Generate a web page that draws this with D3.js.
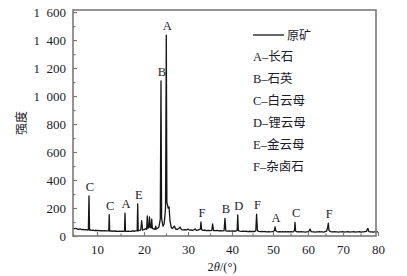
<!DOCTYPE html>
<html><head><meta charset="utf-8">
<script src="https://cdn.jsdelivr.net/npm/d3@7"></script>
<style>body{margin:0;background:#fff}svg{display:block}</style></head>
<body><svg id="c" width="407" height="276"></svg>
<script>
// ---- data ----
const twoTheta = [5.0,5.3,5.6,5.9,6.2,6.5,6.8,7.1,7.4,7.7,8.0,8.2,8.33,8.45,8.6,8.9,9.2,9.5,9.8,10.1,10.4,10.7,11.0,11.3,11.6,11.9,12.2,12.5,12.6,12.7,13.0,13.3,13.6,13.9,14.2,14.5,14.8,15.1,15.4,15.7,15.85,15.96,16.07,16.4,16.7,17.0,17.3,17.6,17.9,18.2,18.55,18.66,18.77,19.0,19.3,19.5,19.7,20.0,20.3,20.6,20.75,20.9,21.1,21.25,21.4,21.6,21.75,21.9,22.2,22.5,22.66,22.8,23.1,23.4,23.7,23.86,24.0,24.3,24.6,24.9,25.07,25.2,25.5,25.7,25.9,26.2,26.5,26.9,27.2,27.5,27.9,28.2,28.5,28.9,29.3,29.7,30.0,30.3,30.7,31.0,31.3,31.6,31.9,32.2,32.5,32.8,32.95,33.1,33.4,33.8,34.2,34.6,35.0,35.4,35.6,35.8,36.2,36.6,37.0,37.4,37.8,38.2,38.4,38.6,39.0,39.4,39.8,40.2,40.6,41.0,41.25,41.4,41.55,41.9,42.3,42.7,43.1,43.5,43.9,44.3,44.7,45.1,45.5,45.8,46.0,46.2,46.5,46.9,47.3,47.7,48.1,48.5,48.9,49.3,49.7,50.1,50.4,50.6,50.8,51.1,51.5,51.9,52.3,52.7,53.1,53.5,53.9,54.3,54.7,55.1,55.5,55.9,56.15,56.3,56.45,56.8,57.2,57.6,58.0,58.4,58.8,59.2,59.6,60.0,60.3,60.6,60.9,61.3,61.7,62.1,62.5,62.9,63.3,63.7,64.1,64.5,64.9,65.3,65.6,65.8,66.0,66.3,66.7,67.1,67.5,67.9,68.3,68.7,69.1,69.5,69.9,70.3,70.7,71.1,71.5,71.9,72.3,72.7,73.1,73.5,73.9,74.3,74.7,75.1,75.5,75.9,76.3,76.7,77.1,77.4,77.8,78.2,78.6,79.0,79.4,79.8,80.0];
const intensity = [58,52,55,50,48,51,46,47,44,46,43,44,286,42,44,40,42,39,41,38,40,37,39,36,38,36,37,36,152,35,37,34,36,34,35,33,35,33,34,33,35,164,34,33,35,33,34,36,34,36,37,229,37,40,42,109,43,45,52,48,143,55,60,136,62,58,121,55,50,48,71,50,55,65,120,1109,130,70,90,200,1436,240,200,207,110,60,55,71,50,48,52,64,46,44,46,43,50,42,44,41,43,50,41,42,45,48,100,46,40,41,39,40,38,40,86,39,38,40,37,38,36,38,126,37,35,37,35,36,34,36,40,150,38,35,33,35,33,34,32,34,32,33,32,36,157,40,33,31,33,31,32,30,32,30,31,33,40,66,38,32,30,32,29,31,29,31,30,32,29,31,30,32,40,98,36,30,31,29,31,29,30,28,30,32,36,50,31,29,30,28,30,29,31,29,30,28,31,34,60,91,40,33,30,29,31,29,30,28,30,29,31,28,30,29,31,28,30,29,31,28,30,29,31,28,30,29,31,33,55,31,29,30,28,30,29,30,29];
const peakNames = ["C","C","A","E","B","A","F","B","D","F","A","C","F"];
const peakTheta = [8.33,12.6,15.96,18.66,23.86,25.07,32.95,38.4,41.4,46.0,50.6,56.3,65.8];
const peakIntensity = [286,152,164,229,1109,1436,100,126,150,157,66,98,91];
const xTicks = [10,20,30,40,50,60,70,80];
const yTicks = [0,200,400,600,800,1000,1200,1400,1600];
const seriesName = "原矿";
const legendItems = ["A–长石","B–石英","C–白云母","D–锂云母","E–金云母","F–杂卤石"];
const yTitle = "强度";

// ---- drawing ----
const svg = d3.select("#c");
const serif = "'Liberation Serif','Times New Roman','Noto Sans CJK SC',serif";
const ink = "#1b1b2b";
const L = 73, R = 376, T = 10, B = 236;

const x = d3.scaleLinear().domain([5,10,20,30,40,50,60,70,80]).range([L,97,144,188,232,273,308,343,R+2]);
const y = d3.scaleLinear().domain([0,1615]).range([B,T]);

// data line
const pts = twoTheta.map((t,i)=>[t,intensity[i]]);
svg.append("path").datum(pts)
  .attr("fill","none").attr("stroke","#161616").attr("stroke-width",1.3).attr("stroke-linejoin","round")
  .attr("d", d3.line().x(d=>x(d[0])).y(d=>y(d[1])));

// frame
svg.append("rect").attr("x",L).attr("y",T).attr("width",R-L).attr("height",B-T)
  .attr("fill","none").attr("stroke","#7a7a7a").attr("stroke-width",1.6);

// axes
const fmt = d => d >= 1000 ? String(d).replace(/(\d)(\d{3})$/,"$1\u2002$2") : String(d);
const gy = svg.append("g").attr("transform",`translate(${L},0)`)
  .call(d3.axisLeft(y).tickValues(yTicks).tickSize(-4).tickPadding(7).tickFormat(fmt));
svg.append("g").attr("transform",`translate(${L},0)`)
  .call(d3.axisLeft(y).tickValues(d3.range(100,1600,200)).tickSize(-2.5).tickFormat(""));
const gx = svg.append("g").attr("transform",`translate(0,${B})`)
  .call(d3.axisBottom(x).tickValues(xTicks).tickSize(-4).tickPadding(9).tickFormat(d3.format("d")));
svg.append("g").attr("transform",`translate(0,${B})`)
  .call(d3.axisBottom(x).tickValues([5,15,25,35,45,55,65,75]).tickSize(-2.5).tickFormat(""));
svg.selectAll(".domain").remove();
svg.selectAll(".tick line").attr("stroke","#7a7a7a").attr("stroke-width",1.2);
svg.selectAll(".tick text").attr("font-family",serif).attr("font-size",13).attr("fill",ink);

// peak labels
svg.append("g").selectAll("text").data(peakNames).join("text")
  .attr("x",(d,i)=>x(peakTheta[i])+1).attr("y",(d,i)=>y(peakIntensity[i])-5)
  .attr("text-anchor","middle").attr("font-family",serif).attr("font-size",12.5).attr("fill",ink)
  .text(d=>d);

// legend
const lg = svg.append("g").attr("transform","translate(253,0)");
lg.append("line").attr("x1",0).attr("x2",31).attr("y1",35).attr("y2",35).attr("stroke","#161616").attr("stroke-width",1.3);
lg.append("text").attr("x",34).attr("y",39.5).attr("font-family",serif).attr("font-size",12).attr("fill",ink).text(seriesName);
lg.selectAll("text.it").data(legendItems).join("text").attr("class","it")
  .attr("x",0).attr("y",(d,i)=>61+i*22).attr("font-family",serif).attr("font-size",12.5).attr("fill",ink)
  .text(d=>d);

// axis titles
svg.append("text").attr("transform","translate(26,123) rotate(-90)").attr("text-anchor","middle")
  .attr("font-family",serif).attr("font-size",12).attr("fill",ink).text(yTitle);
const xt = svg.append("text").attr("x",222).attr("y",271).attr("text-anchor","middle")
  .attr("font-family",serif).attr("font-size",12.5).attr("fill",ink);
xt.append("tspan").text("2");
xt.append("tspan").attr("font-style","italic").text("θ");
xt.append("tspan").text("/(°)");
</script></body></html>
